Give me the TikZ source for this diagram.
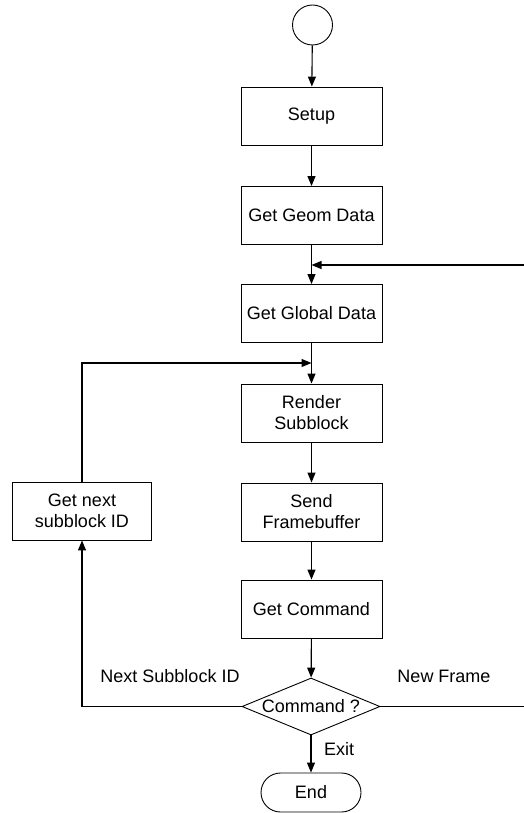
\documentclass[tikz,border=0pt]{standalone}
\usepackage{fontspec}
\setmainfont{Liberation Sans}
\usetikzlibrary{arrows.meta,shapes.geometric,shapes.misc}
\begin{document}
\begin{tikzpicture}[x=1pt,y=-1pt,
  txt/.style={font=\fontsize{18}{21}\selectfont},
  box/.style={draw,line width=0.9pt,minimum width=141pt,minimum height=58pt,inner sep=0pt,align=center,txt},
  flow/.style={line width=1.1pt,-{Triangle[length=10pt,width=8pt]}},
  lbl/.style={txt,inner sep=0pt},
  ]
\useasboundingbox (0,0) rectangle (524,813);
\clip (0,0) rectangle (524,813);
\node[draw,circle,minimum size=40pt,inner sep=0pt,line width=0.9pt] (start) at (312.5,25) {};
\node[box] (setup) at (311.5,116) {Setup};
\node[box] (geom) at (311.5,215.5) {Get Geom Data};
\node[box] (glob) at (311.5,313.5) {Get Global Data};
\node[box] (rend) at (311.5,413) {Render\\Subblock};
\node[box] (send) at (311.5,512) {Send\\Framebuffer};
\node[box] (cmd) at (311.5,609) {Get Command};
\node[diamond,draw,line width=0.9pt,inner sep=0pt,aspect=2.42,minimum width=138pt,minimum height=57pt,txt] (dec) at (311,706.5) {Command ?};
\node[rounded rectangle,draw,line width=0.9pt,minimum width=100pt,minimum height=39pt,inner sep=0pt,txt] (end) at (311,792.5) {End};
\node[box,minimum width=139pt] (next) at (82,511) {Get next\\subblock ID};
\coordinate (m1) at (311.5,265);
\coordinate (m2) at (311.5,363);
\draw[flow] (start) -- (setup);
\draw[flow] (setup) -- (geom);
\draw[flow] (geom) -- (glob);
\draw[flow] (glob) -- (rend);
\draw[flow] (rend) -- (send);
\draw[flow] (send) -- (cmd);
\draw[flow] (cmd) -- (dec);
\draw[flow] (dec) -- (end);
\draw[flow] (dec.east) -- ++(150,0) |- (m1);
\draw[flow] (dec.west) -| (next.south);
\draw[flow] (next.north) |- (m2);
\node[lbl] (l1) at (170,676) {Next Subblock ID};
\node[lbl] (l2) at (444,676) {New Frame};
\node[lbl,anchor=west] (l3) at (324,749) {Exit};
\end{tikzpicture}
\end{document}
